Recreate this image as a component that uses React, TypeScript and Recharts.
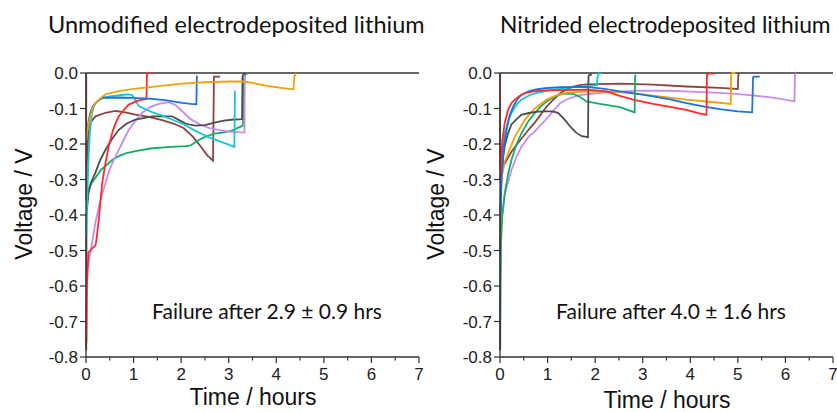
import { LineChart, Line, XAxis, YAxis, ReferenceLine } from "recharts";

// time (hours), voltage (V) pairs
const xTicks = [0, 0.5, 1, 1.5, 2, 2.5, 3, 3.5, 4, 4.5, 5, 5.5, 6, 6.5, 7];
const yTicks = [-0.8, -0.7, -0.6, -0.5, -0.4, -0.3, -0.2, -0.1, 0];

const titles = ["Unmodified electrodeposited lithium", "Nitrided electrodeposited lithium"];
const notes = ["Failure after 2.9 ± 0.9 hrs", "Failure after 4.0 ± 1.6 hrs"];

type Pt = [number, number];

// unmodified
const uRed: Pt[] = [[0.01, -0.76], [0.02, -0.6], [0.05, -0.505], [0.2, -0.485], [0.22, -0.47], [0.27, -0.41], [0.34, -0.31], [0.41, -0.253], [0.48, -0.205], [0.55, -0.169], [0.62, -0.142], [0.69, -0.122], [0.8, -0.103], [0.9, -0.089], [1.05, -0.08], [1.18, -0.075], [1.27, -0.073], [1.28, -0.005], [1.3, 0], [1.37, 0]];
const uBlue: Pt[] = [[0.01, -0.19], [0.02, -0.178], [0.05, -0.14], [0.09, -0.112], [0.14, -0.095], [0.2, -0.084], [0.34, -0.07], [0.69, -0.069], [1.0, -0.07], [1.39, -0.073], [1.7, -0.077], [2.02, -0.084], [2.2, -0.087], [2.32, -0.088], [2.33, -0.01], [2.34, -0.008]];
const uOrange: Pt[] = [[0.005, -0.19], [0.02, -0.169], [0.07, -0.135], [0.126, -0.103], [0.2, -0.085], [0.27, -0.075], [0.41, -0.06], [0.69, -0.051], [1.0, -0.045], [1.39, -0.039], [2.02, -0.03], [2.5, -0.026], [3.0, -0.024], [3.3, -0.024], [3.5, -0.028], [3.8, -0.036], [4.1, -0.042], [4.36, -0.046], [4.38, -0.01], [4.42, 0]];
const uCyan: Pt[] = [[0.005, -0.46], [0.02, -0.38], [0.04, -0.3], [0.055, -0.234], [0.08, -0.17], [0.126, -0.112], [0.18, -0.09], [0.27, -0.075], [0.4, -0.068], [0.55, -0.065], [0.75, -0.062], [0.9, -0.06], [0.97, -0.062], [1.03, -0.075], [1.11, -0.093], [1.25, -0.102], [1.39, -0.11], [1.6, -0.12], [1.81, -0.131], [2.06, -0.145], [2.3, -0.163], [2.6, -0.182], [2.9, -0.197], [3.12, -0.208], [3.13, -0.05]];
const uBrown: Pt[] = [[0.005, 0], [0.005, -0.36], [0.02, -0.25], [0.05, -0.17], [0.09, -0.14], [0.2, -0.122], [0.41, -0.112], [0.62, -0.107], [0.8, -0.11], [1.04, -0.117], [1.3, -0.123], [1.6, -0.133], [1.85, -0.143], [2.05, -0.155], [2.25, -0.18], [2.4, -0.205], [2.55, -0.232], [2.67, -0.247], [2.69, -0.01], [2.82, -0.01]];
const uGray: Pt[] = [[0.005, -0.78], [0.01, -0.4], [0.05, -0.34], [0.1, -0.31], [0.2, -0.28], [0.3, -0.245], [0.41, -0.216], [0.55, -0.185], [0.69, -0.16], [0.85, -0.143], [1.04, -0.131], [1.39, -0.122], [1.81, -0.122], [1.95, -0.132], [2.1, -0.143], [2.3, -0.148], [2.5, -0.147], [2.7, -0.14], [2.9, -0.134], [3.1, -0.131], [3.28, -0.13], [3.29, -0.01], [3.31, -0.003], [3.37, -0.002]];
const uViolet: Pt[] = [[0.02, -0.56], [0.1, -0.5], [0.2, -0.42], [0.3, -0.36], [0.41, -0.31], [0.5, -0.27], [0.62, -0.235], [0.75, -0.2], [0.9, -0.16], [1.05, -0.133], [1.18, -0.112], [1.35, -0.096], [1.53, -0.087], [1.74, -0.082], [1.88, -0.09], [2.0, -0.105], [2.2, -0.13], [2.4, -0.145], [2.6, -0.155], [2.8, -0.161], [3.0, -0.165], [3.33, -0.168], [3.34, -0.005], [3.36, 0]];
const uGreen: Pt[] = [[0.01, -0.38], [0.05, -0.33], [0.12, -0.31], [0.2, -0.295], [0.3, -0.275], [0.41, -0.262], [0.55, -0.245], [0.69, -0.234], [0.85, -0.226], [1.04, -0.22], [1.39, -0.212], [1.8, -0.208], [2.1, -0.206], [2.2, -0.204], [2.35, -0.19], [2.5, -0.18], [2.7, -0.171], [2.9, -0.167], [3.05, -0.163], [3.3, -0.148], [3.32, -0.02], [3.34, -0.005], [3.42, 0]];

// nitrided
const nRed: Pt[] = [[0.005, -0.3], [0.02, -0.25], [0.05, -0.19], [0.1, -0.14], [0.17, -0.104], [0.24, -0.085], [0.31, -0.075], [0.42, -0.064], [0.52, -0.057], [0.7, -0.052], [0.94, -0.049], [1.26, -0.048], [1.82, -0.047], [2.24, -0.052], [2.5, -0.064], [2.8, -0.075], [3.22, -0.087], [3.6, -0.096], [3.92, -0.104], [4.15, -0.112], [4.34, -0.118], [4.35, -0.005], [4.38, -0.002], [4.5, -0.002]];
const nBlue: Pt[] = [[0.01, -0.4], [0.03, -0.3], [0.08, -0.21], [0.14, -0.16], [0.2, -0.12], [0.28, -0.094], [0.36, -0.075], [0.45, -0.061], [0.6, -0.052], [0.73, -0.047], [0.94, -0.043], [1.26, -0.04], [1.82, -0.039], [2.2, -0.045], [2.52, -0.052], [2.9, -0.059], [3.22, -0.066], [3.6, -0.075], [3.92, -0.085], [4.3, -0.095], [4.62, -0.102], [5.0, -0.108], [5.3, -0.111], [5.32, -0.012], [5.34, -0.01], [5.46, -0.01]];
const nCyan: Pt[] = [[0.005, -0.3], [0.02, -0.245], [0.1, -0.17], [0.17, -0.135], [0.24, -0.113], [0.35, -0.088], [0.45, -0.075], [0.63, -0.062], [0.8, -0.055], [1.12, -0.047], [1.47, -0.041], [1.82, -0.037], [2.04, -0.034], [2.05, -0.01], [2.07, -0.002], [2.14, -0.002]];
const nBrown: Pt[] = [[0.003, 0], [0.003, -0.27], [0.05, -0.265], [0.1, -0.255], [0.24, -0.222], [0.42, -0.19], [0.6, -0.16], [0.73, -0.14], [0.85, -0.118], [0.98, -0.095], [1.12, -0.075], [1.26, -0.058], [1.4, -0.046], [1.54, -0.038], [1.68, -0.034], [1.82, -0.032], [2.52, -0.03], [3.22, -0.033], [3.92, -0.038], [4.62, -0.042], [5.0, -0.045], [5.01, -0.005], [5.03, 0]];
const nGray: Pt[] = [[0.003, -0.78], [0.008, -0.4], [0.03, -0.28], [0.07, -0.235], [0.1, -0.205], [0.17, -0.17], [0.24, -0.145], [0.35, -0.13], [0.45, -0.118], [0.63, -0.112], [0.8, -0.109], [0.98, -0.108], [1.1, -0.108], [1.22, -0.112], [1.35, -0.13], [1.47, -0.15], [1.6, -0.168], [1.72, -0.178], [1.85, -0.181], [1.86, -0.01], [1.88, -0.005], [1.93, -0.005]];
const nOrange: Pt[] = [[0.003, -0.5], [0.02, -0.35], [0.04, -0.29], [0.1, -0.25], [0.17, -0.226], [0.31, -0.18], [0.42, -0.155], [0.52, -0.132], [0.63, -0.115], [0.73, -0.1], [0.85, -0.088], [0.98, -0.075], [1.2, -0.062], [1.4, -0.056], [1.82, -0.052], [2.52, -0.054], [3.22, -0.064], [3.92, -0.075], [4.4, -0.081], [4.85, -0.087], [4.86, -0.005], [4.88, 0], [4.95, 0]];
const nGreen: Pt[] = [[0.003, -0.78], [0.01, -0.6], [0.02, -0.48], [0.05, -0.4], [0.1, -0.34], [0.17, -0.285], [0.24, -0.245], [0.35, -0.2], [0.45, -0.17], [0.6, -0.135], [0.73, -0.113], [0.85, -0.095], [0.98, -0.08], [1.12, -0.068], [1.26, -0.061], [1.4, -0.058], [1.54, -0.059], [1.65, -0.065], [1.82, -0.08], [2.1, -0.087], [2.52, -0.096], [2.83, -0.111], [2.84, -0.008], [2.86, -0.005]];
const nViolet: Pt[] = [[0.005, -0.5], [0.02, -0.43], [0.1, -0.34], [0.24, -0.274], [0.35, -0.235], [0.45, -0.208], [0.6, -0.18], [0.73, -0.165], [0.84, -0.148], [0.94, -0.135], [1.1, -0.11], [1.26, -0.085], [1.45, -0.072], [1.68, -0.062], [2.17, -0.055], [2.87, -0.05], [3.5, -0.05], [3.92, -0.052], [4.5, -0.055], [4.97, -0.059], [5.3, -0.063], [5.66, -0.068], [6.0, -0.075], [6.19, -0.08], [6.2, -0.005], [6.22, 0]];

const colors = {
  red: "#ff2b2b",
  blue: "#1a72e6",
  cyan: "#16c6d3",
  orange: "#f0a20c",
  green: "#13ad6a",
  violet: "#c98af2",
  brown: "#8a4540",
  gray: "#4d4d4d",
};

const unmodified: [Pt[], string][] = [
  [uBrown, colors.brown],
  [uGreen, colors.green],
  [uViolet, colors.violet],
  [uGray, colors.gray],
  [uCyan, colors.cyan],
  [uRed, colors.red],
  [uBlue, colors.blue],
  [uOrange, colors.orange],
];

const nitrided: [Pt[], string][] = [
  [nBrown, colors.brown],
  [nViolet, colors.violet],
  [nGreen, colors.green],
  [nOrange, colors.orange],
  [nGray, colors.gray],
  [nCyan, colors.cyan],
  [nBlue, colors.blue],
  [nRed, colors.red],
];

const axisFont = "'Liberation Sans', Arial, sans-serif";
const textFont = "Lato, 'Open Sans', sans-serif";
const axisColor = "#333";

function XTick(props: any) {
  const { x, y, payload } = props;
  const major = Number.isInteger(payload.value);
  return (
    <g>
      <line x1={x} x2={x} y1={y} y2={y + (major ? 6 : 3.5)} stroke={axisColor} strokeWidth={1.2} />
      {major && (
        <text x={x} y={y + 23} textAnchor="middle" fontSize={17} fill="#222" fontFamily={axisFont}>
          {payload.value}
        </text>
      )}
    </g>
  );
}

function Panel({ series }: { series: [Pt[], string][] }) {
  return (
    <LineChart width={440} height={412} margin={{ top: 73, right: 21, bottom: 25, left: 0 }}>
      <XAxis
        dataKey="t"
        type="number"
        domain={[0, 7]}
        ticks={xTicks}
        interval={0}
        height={30}
        tickSize={0}
        tickMargin={0}
        tick={<XTick />}
        tickLine={false}
        axisLine={{ stroke: axisColor, strokeWidth: 1.3 }}
      />
      <YAxis
        type="number"
        domain={[-0.8, 0]}
        ticks={yTicks}
        interval={0}
        width={86}
        tickSize={6}
        tickMargin={2}
        tickFormatter={(v: number) => v.toFixed(1)}
        tick={{ fontSize: 17, fill: "#222", fontFamily: axisFont }}
        tickLine={{ stroke: axisColor, strokeWidth: 1.2 }}
        axisLine={{ stroke: axisColor, strokeWidth: 1.3 }}
      />
      <ReferenceLine y={0} stroke={axisColor} strokeWidth={1.3} />
      {series.map(([pts, color], i) => (
        <Line
          key={i}
          data={pts.map(([t, v]) => ({ t, v }))}
          dataKey="v"
          type="linear"
          stroke={color}
          strokeWidth={1.8}
          dot={false}
          activeDot={false}
          isAnimationActive={false}
        />
      ))}
    </LineChart>
  );
}

export default function App() {
  return (
    <div
      style={{
        position: "absolute",
        left: 0,
        top: 0,
        width: 837,
        height: 412,
        background: "#fff",
        overflow: "hidden",
      }}
    >
      <div style={{ position: "absolute", left: 0, top: 0 }}>
        <Panel series={unmodified} />
      </div>
      <div style={{ position: "absolute", left: 414, top: 0 }}>
        <Panel series={nitrided} />
      </div>
      <svg
        width={837}
        height={412}
        style={{ position: "absolute", left: 0, top: 0, pointerEvents: "none" }}
      >
        <text x={48} y={33} fontSize={23.5} fontFamily={textFont} fill="#111">
          {titles[0]}
        </text>
        <text x={500} y={33} fontSize={22.8} fontFamily={textFont} fill="#111">
          {titles[1]}
        </text>
        <text x={267} y={319} textAnchor="middle" fontSize={21} fontFamily={textFont} fill="#111">
          {notes[0]}
        </text>
        <text x={671} y={319} textAnchor="middle" fontSize={21} fontFamily={textFont} fill="#111">
          {notes[1]}
        </text>
        <text
          x={32}
          y={204}
          transform="rotate(-90 32 204)"
          textAnchor="middle"
          fontSize={23}
          fontFamily={axisFont}
          fill="#111"
        >
          Voltage / V
        </text>
        <text
          x={444}
          y={204}
          transform="rotate(-90 444 204)"
          textAnchor="middle"
          fontSize={23}
          fontFamily={axisFont}
          fill="#111"
        >
          Voltage / V
        </text>
        <text x={253} y={405} textAnchor="middle" fontSize={23} fontFamily={axisFont} fill="#111">
          Time / hours
        </text>
        <text x={667} y={408} textAnchor="middle" fontSize={23} fontFamily={axisFont} fill="#111">
          Time / hours
        </text>
      </svg>
    </div>
  );
}
